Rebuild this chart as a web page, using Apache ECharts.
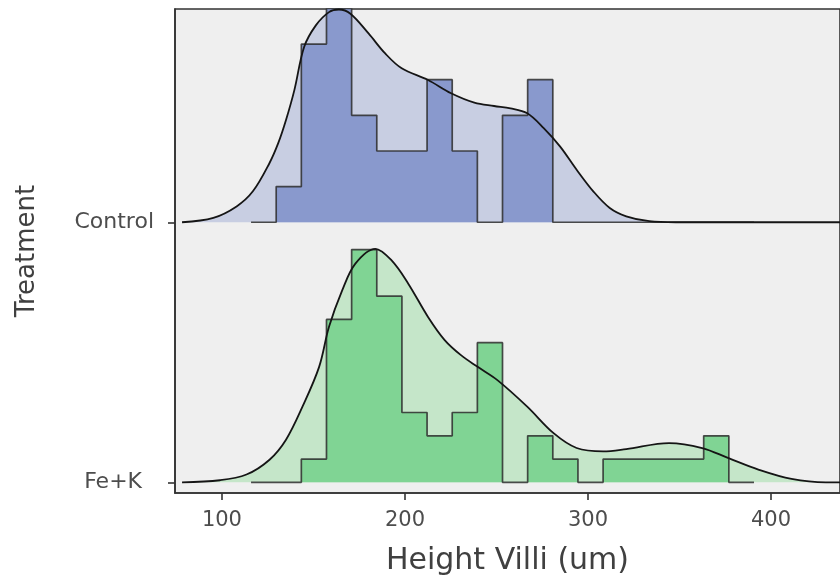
<!DOCTYPE html>
<html>
<head>
<meta charset="utf-8">
<script src="https://cdn.jsdelivr.net/npm/echarts@6/dist/echarts.min.js"></script>
<style>
  html, body { margin: 0; padding: 0; background: #ffffff; }
  #chart { width: 840px; height: 581px; }
</style>
</head>
<body>
<div id="chart"></div>
<script>
// ---- data ----
const groups = ['Fe+K', 'Control'];          // ridge positions 1 and 2
const xTicks = [100, 200, 300, 400];
const binStart = 115.9;
const binWidth = 13.74;
const controlCounts = [0, 1, 5, 6, 3, 2, 2, 4, 2, 0, 3, 4, 0, 0, 0, 0, 0, 0, 0, 0];
const feKCounts     = [0, 0, 1, 7, 10, 8, 3, 2, 3, 6, 0, 2, 1, 0, 1, 1, 1, 1, 2, 0];
const ridgeScale = 4.385;   // scaled density height per (count / n)

const controlDensityX = [78.2, 95.3, 108.0, 116.9, 126.0, 130.8, 135.0, 139.6, 144.9, 151.3, 158.5, 163.9, 170.2, 180.1, 189.2, 198.2, 212.6, 225.2, 237.9, 248.7, 257.7, 266.8, 275.8, 284.8, 293.8, 302.9, 311.9, 320.9, 333.5, 348.0, 440.0];
const controlDensityH = [0, 0.017, 0.061, 0.119, 0.228, 0.305, 0.393, 0.509, 0.674, 0.757, 0.808, 0.818, 0.802, 0.726, 0.649, 0.592, 0.547, 0.496, 0.460, 0.447, 0.438, 0.419, 0.362, 0.291, 0.202, 0.119, 0.055, 0.023, 0.004, 0, 0];

const feKDensityX = [78.2, 98.9, 113.4, 126.0, 135.0, 144.0, 153.1, 158.5, 165.7, 172.9, 183.8, 192.7, 201.8, 212.6, 221.7, 230.6, 239.7, 250.5, 266.8, 281.2, 293.8, 308.3, 320.9, 344.3, 362.4, 376.8, 393.1, 411.2, 430.0, 440.0];
const feKDensityH = [0, 0.008, 0.030, 0.087, 0.164, 0.291, 0.444, 0.598, 0.738, 0.841, 0.898, 0.853, 0.764, 0.636, 0.547, 0.489, 0.444, 0.393, 0.291, 0.189, 0.132, 0.119, 0.128, 0.151, 0.132, 0.093, 0.049, 0.013, 0, 0];

// ---- build series data ----
function histData(counts, base) {
  const n = counts.reduce((a, b) => a + b, 0);
  const pts = [];
  for (let i = 0; i < counts.length; i++) {
    pts.push([binStart + i * binWidth, base + counts[i] / n * ridgeScale]);
  }
  pts.push([binStart + counts.length * binWidth, base]);
  return pts;
}
function densData(xs, hs, base) {
  return xs.map((x, i) => [x, base + hs[i]]);
}

const ridges = [
  { base: 2, counts: controlCounts, dx: controlDensityX, dh: controlDensityH, light: '#c8cee2', dark: '#8999cd' },
  { base: 1, counts: feKCounts, dx: feKDensityX, dh: feKDensityH, light: '#c5e6c9', dark: '#80d494' }
];

const series = [];
ridges.forEach(r => {
  const dd = densData(r.dx, r.dh, r.base);
  series.push({
    type: 'line', data: dd, smooth: 0.35, symbol: 'none', silent: true,
    lineStyle: { width: 0, opacity: 0 },
    areaStyle: { color: r.light, opacity: 1, origin: r.base }
  });
  series.push({
    type: 'line', data: histData(r.counts, r.base), step: 'end', symbol: 'none', silent: true,
    lineStyle: { color: 'rgba(45,45,45,0.85)', width: 1.7 },
    areaStyle: { color: r.dark, opacity: 1, origin: r.base }
  });
  series.push({
    type: 'line', data: dd, smooth: 0.35, symbol: 'none', silent: true,
    lineStyle: { color: '#151515', width: 1.8 }
  });
});

const chart = echarts.init(document.getElementById('chart'), null, { renderer: 'canvas' });
chart.setOption({
  animation: false,
  backgroundColor: '#ffffff',
  textStyle: { fontFamily: 'DejaVu Sans' },
  grid: {
    left: 175, top: 9, right: -5, bottom: 87,
    show: true, backgroundColor: '#efefef', borderColor: '#333333', borderWidth: 1.6
  },
  xAxis: {
    type: 'value', min: 74.35, max: 437.7,
    name: 'Height Villi (um)', nameLocation: 'middle', nameGap: 53,
    nameTextStyle: { fontFamily: 'DejaVu Sans', fontSize: 30, color: '#404040' },
    axisLine: { show: true, lineStyle: { color: '#333333', width: 1.6 } },
    axisTick: { show: true, length: 7, customValues: xTicks, lineStyle: { color: '#333333', width: 1.6 } },
    axisLabel: { customValues: xTicks, margin: 17, fontFamily: 'DejaVu Sans', fontSize: 21, color: '#4d4d4d' },
    splitLine: { show: false }
  },
  yAxis: {
    type: 'value', min: 0.959, max: 2.82,
    name: 'Treatment', nameLocation: 'middle', nameGap: 135, nameRotate: 90,
    nameTextStyle: { fontFamily: 'DejaVu Sans', fontSize: 26, color: '#404040' },
    axisLine: { show: true, lineStyle: { color: '#333333', width: 1.6 } },
    axisTick: { show: true, length: 7, customValues: [1, 2], lineStyle: { color: '#333333', width: 1.6 } },
    axisLabel: {
      customValues: [1, 2], margin: 21,
      formatter: v => (v === 2 ? '{a|' + groups[1] + '}' : '{a|' + groups[0] + '}{p| }'),
      rich: {
        a: { fontFamily: 'DejaVu Sans', fontSize: 22, color: '#4d4d4d' },
        p: { width: 12, fontSize: 22 }
      }
    },
    splitLine: { show: false }
  },
  series: series
});
</script>
</body>
</html>
